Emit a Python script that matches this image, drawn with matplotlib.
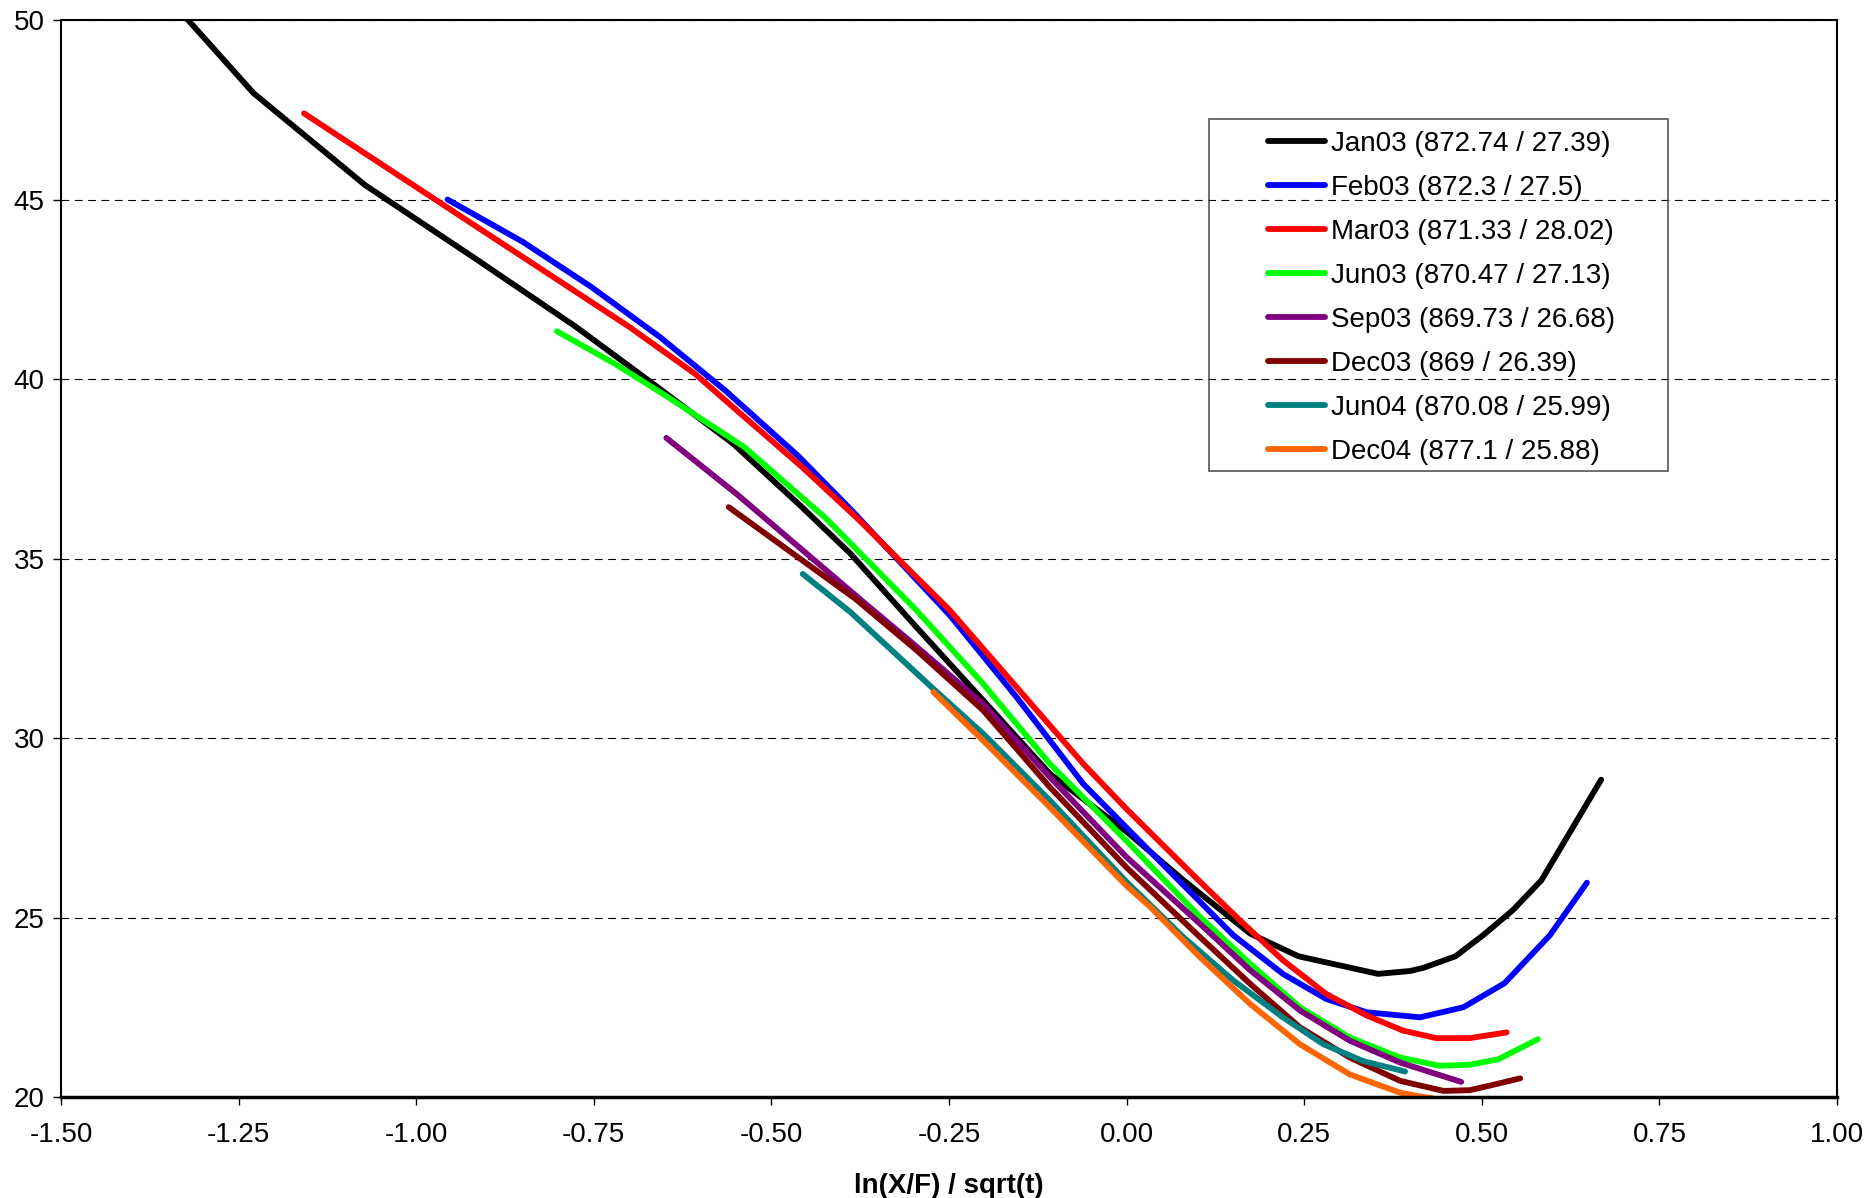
import matplotlib
matplotlib.use("Agg")
import matplotlib.pyplot as plt
from matplotlib.patches import Rectangle

plt.rcParams['font.family'] = ['Liberation Sans', 'DejaVu Sans']

labels = ["Jan03 (872.74 / 27.39)", "Feb03 (872.3 / 27.5)", "Mar03 (871.33 / 28.02)",
          "Jun03 (870.47 / 27.13)", "Sep03 (869.73 / 26.68)", "Dec03 (869 / 26.39)",
          "Jun04 (870.08 / 25.99)", "Dec04 (877.1 / 25.88)"]
colors = ["#000000", "#0000FF", "#FF0000", "#00FF00", "#800080", "#800000", "#008080", "#FF6600"]

jan03_x = [-1.38, -1.229, -1.072, -0.915, -0.775, -0.673, -0.554, -0.457, -0.389, -0.296, -0.202,
           -0.108, 0.0, 0.080, 0.174, 0.242, 0.354, 0.399, 0.418, 0.463, 0.502, 0.544, 0.584, 0.668]
jan03_y = [51.3, 47.96, 45.40, 43.33, 41.45, 39.96, 38.20, 36.43, 35.14, 33.09, 31.05,
           29.0, 27.39, 26.04, 24.55, 23.92, 23.43, 23.51, 23.6, 23.92, 24.51, 25.21, 26.04, 28.84]

feb03_x = [-0.956, -0.850, -0.754, -0.657, -0.565, -0.463, -0.387, -0.249, -0.155, -0.061, 0.0,
           0.070, 0.150, 0.220, 0.281, 0.338, 0.413, 0.474, 0.532, 0.596, 0.648]
feb03_y = [45.0, 43.82, 42.57, 41.17, 39.68, 37.87, 36.34, 33.42, 31.14, 28.72, 27.5,
           26.10, 24.51, 23.43, 22.73, 22.36, 22.22, 22.5, 23.17, 24.51, 25.97]

mar03_x = [-1.158, -0.958, -0.807, -0.700, -0.608, -0.538, -0.457, -0.376, -0.249, -0.155,
           -0.061, 0.0, 0.098, 0.159, 0.220, 0.281, 0.338, 0.389, 0.436, 0.483, 0.535]
mar03_y = [47.40, 44.80, 42.84, 41.45, 40.15, 38.94, 37.55, 36.06, 33.56, 31.42,
           29.28, 28.02, 26.1, 24.93, 23.81, 22.87, 22.27, 21.85, 21.64, 21.64, 21.8]

jun03_x = [-0.802, -0.721, -0.646, -0.538, -0.425, -0.360, -0.296, -0.202, -0.108, 0.0,
           0.103, 0.174, 0.244, 0.314, 0.385, 0.441, 0.483, 0.523, 0.579]
jun03_y = [41.33, 40.43, 39.50, 38.10, 36.15, 34.85, 33.56, 31.51, 29.28, 27.13,
           25.02, 23.71, 22.50, 21.66, 21.1, 20.87, 20.9, 21.05, 21.61]

sep03_x = [-0.648, -0.548, -0.376, -0.296, -0.202, -0.108, 0.0, 0.103, 0.174, 0.244, 0.314, 0.385, 0.471]
sep03_y = [38.36, 36.78, 33.88, 32.55, 30.95, 28.91, 26.68, 24.83, 23.53, 22.41, 21.57, 20.96, 20.42]

dec03_x = [-0.560, -0.382, -0.296, -0.202, -0.108, 0.0, 0.103, 0.174, 0.244, 0.314, 0.385,
           0.446, 0.483, 0.516, 0.554]
dec03_y = [36.43, 33.88, 32.45, 30.77, 28.63, 26.39, 24.46, 23.15, 21.94, 21.10, 20.45,
           20.17, 20.19, 20.34, 20.52]

jun04_x = [-0.456, -0.389, -0.272, -0.202, -0.108, 0.0, 0.080, 0.150, 0.220, 0.277, 0.333, 0.392]
jun04_y = [34.57, 33.51, 31.37, 30.12, 28.26, 25.99, 24.45, 23.25, 22.22, 21.47, 21.0, 20.71]

dec04_x = [-0.272, -0.202, -0.108, 0.0, 0.033, 0.103, 0.174, 0.244, 0.314, 0.385, 0.418, 0.43]
dec04_y = [31.28, 29.93, 28.07, 25.88, 25.30, 23.90, 22.59, 21.47, 20.63, 20.12, 20.0, 19.97]

series = [(jan03_x, jan03_y), (feb03_x, feb03_y), (mar03_x, mar03_y), (jun03_x, jun03_y),
          (sep03_x, sep03_y), (dec03_x, dec03_y), (jun04_x, jun04_y), (dec04_x, dec04_y)]

xticks = [-1.5, -1.25, -1.0, -0.75, -0.5, -0.25, 0.0, 0.25, 0.5, 0.75, 1.0]
yticks = [20, 25, 30, 35, 40, 45, 50]

fig = plt.figure(figsize=(18.68, 11.98), dpi=100)
ax = fig.add_axes([0.0327, 0.0843, 0.9507, 0.899])

lines = []
for (xs, ys), c, lab in zip(series, colors, labels):
    ln, = ax.plot(xs, ys, color=c, lw=4.2, label=lab, solid_capstyle='round', solid_joinstyle='round')
    lines.append(ln)

ax.set_xlim(-1.5, 1.0)
ax.set_ylim(20, 50)
ax.set_xticks(xticks)
ax.set_xticklabels([f"{t:.2f}" for t in xticks])
ax.set_yticks(yticks)
ax.tick_params(axis='both', labelsize=20, direction='out', length=6, width=1)
ax.tick_params(axis='x', pad=12)
ax.tick_params(axis='y', pad=6)
ax.grid(True, axis='y', color='black', lw=0.8, ls=(0, (7, 5)))
ax.set_axisbelow(True)
for s in ax.spines.values():
    s.set_linewidth(1.5)
ax.spines['bottom'].set_linewidth(2.5)

ax.set_xlabel("ln(X/F) / sqrt(t)", fontsize=20, fontweight='bold', labelpad=18)

# legend frame drawn separately (padding is uneven in the original)
fig.patches.append(Rectangle((0.6472, 0.6068), 0.2457, 0.2939, transform=fig.transFigure,
                             fill=False, edgecolor='#555555', lw=1.2))
fig.legend(handles=lines, loc='upper left', bbox_to_anchor=(0.679, 0.891), frameon=False,
           fontsize=20, handlelength=2.05, handletextpad=0.2, labelspacing=0.65,
           borderpad=0.0, borderaxespad=0.0)

fig.savefig("out.png", dpi=100)
